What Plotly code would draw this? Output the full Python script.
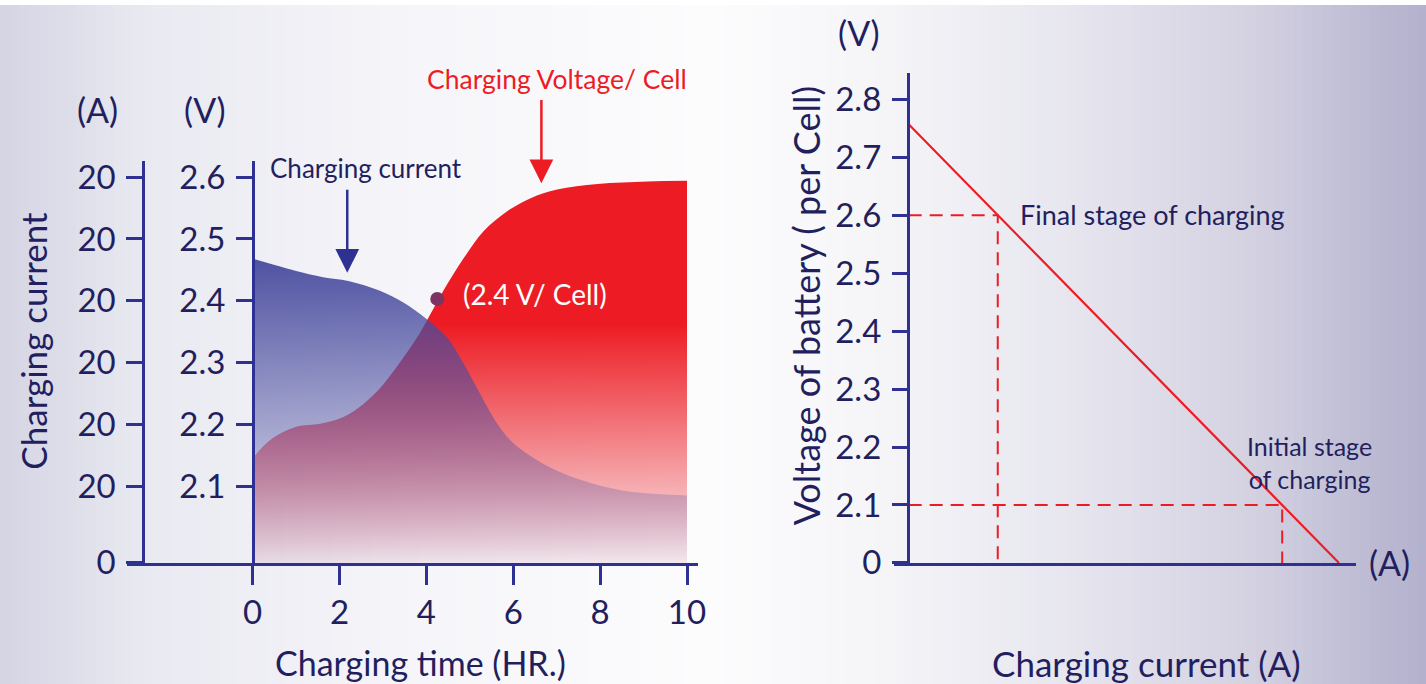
import plotly.graph_objects as go

# ---------------- data ----------------
# Left panel: charging time (hours) vs curves (plotted on the voltage-per-cell scale)
time_hr = [0.0, 0.39, 1.0, 1.55, 2.09, 2.55, 3.01, 3.47, 3.86, 4.09, 4.39, 4.86, 5.32, 5.86, 6.40, 7.01, 7.94, 9.09, 10.0]
voltage_cell = [2.145, 2.174, 2.196, 2.201, 2.212, 2.233, 2.265, 2.308, 2.349, 2.378, 2.416, 2.469, 2.513, 2.545, 2.566, 2.580, 2.589, 2.593, 2.594]

time_cur = [0.0, 1.0, 1.62, 2.2, 2.93, 3.47, 4.01, 4.47, 4.86, 5.24, 5.63, 6.01, 6.55, 7.17, 7.94, 8.71, 10.0]
current_level = [2.468, 2.448, 2.438, 2.432, 2.416, 2.397, 2.370, 2.341, 2.298, 2.249, 2.201, 2.169, 2.142, 2.120, 2.102, 2.091, 2.085]

marker_time = [4.25]
marker_volt = [2.403]

time_ticks = [0, 2, 4, 6, 8, 10]
volt_ticks = [2.1, 2.2, 2.3, 2.4, 2.5, 2.6]
amp_ticktext = ["0", "20", "20", "20", "20", "20", "20"]

# Right panel: charging current (arbitrary units) vs voltage per cell
line_current = [0.0, 10.0]
line_voltage = [2.757, 2.0]
stage_current = [2.07, 8.68]
stage_voltage = [2.6, 2.1]
right_volt_ticks = [2.0, 2.1, 2.2, 2.3, 2.4, 2.5, 2.6, 2.7, 2.8]
right_volt_text = ["0", "2.1", "2.2", "2.3", "2.4", "2.5", "2.6", "2.7", "2.8"]

# ---------------- geometry / style ----------------
# target positions are given in picture pixels (1426 x 684); the page is
# captured slightly scaled, so convert picture pixels to paper fractions.
SX, SY, OY = 0.993, 0.969, 3.3
FW, FH = 1436, 704
def fx(px):
    return (px / SX) / FW
def fy(py):
    return 1 - ((py - OY) / SY) / FH

FONT = "Lato"
NAVY_TXT = "#231f5e"
NAVY_AX = "#2e3192"
RED = "#ed1c24"

fig = go.Figure()

# background gradient stripes
stops = [(0.0, (212, 212, 228)), (0.1, (233, 233, 241)), (0.3, (246, 246, 250)),
         (0.5, (252, 252, 253)), (0.62, (245, 245, 248)), (0.75, (231, 230, 239)),
         (0.88, (211, 209, 225)), (1.0, (178, 176, 204))]
def bg(t):
    for (a, ca), (b, cb) in zip(stops[:-1], stops[1:]):
        if a <= t <= b:
            u = (t - a) / (b - a)
            return "rgb(%d,%d,%d)" % tuple(round(ca[i] + (cb[i] - ca[i]) * u) for i in range(3))
    return "rgb(%d,%d,%d)" % stops[-1][1]
N = 150
shapes = []
for i in range(N):
    x0 = i / N
    x1 = (i + 1) / N + 0.002
    shapes.append(dict(type="rect", xref="paper", yref="paper", x0=x0, x1=x1, y0=0, y1=1,
                       fillcolor=bg((i + 0.5) / N), line=dict(width=0), layer="below"))

# left x scale: x=0 at 252.5px, x=10 at 686.5px
ppx = (686.5 - 252.5) / 10
xl0 = (127 - 252.5) / ppx
xl1 = (697 - 252.5) / ppx
# left y scale: 2.1 at 486px, 2.6 at 176px
ppy = (486 - 176) / 0.5
yl0 = 2.1 - (563 - 486) / ppy
yl1 = 2.6 + (176 - 160) / ppy

# red voltage fill
fig.add_trace(go.Scatter(
    x=time_hr, y=voltage_cell, mode="lines", line=dict(width=0, shape="spline", color=RED),
    fill="tozeroy",
    fillgradient=dict(type="vertical", start=yl0, stop=2.37,
                      colorscale=[[0, "rgba(237,28,36,0)"], [1, "rgba(237,28,36,1)"]]),
    xaxis="x", yaxis="y", showlegend=False, hoverinfo="skip"))
# blue current fill
fig.add_trace(go.Scatter(
    x=time_cur, y=current_level, mode="lines", line=dict(width=0, shape="spline", color=NAVY_AX),
    fill="tozeroy",
    fillgradient=dict(type="vertical", start=yl0, stop=2.47,
                      colorscale=[[0, "rgba(72,75,158,0)"], [1, "rgba(72,75,158,0.95)"]]),
    xaxis="x", yaxis="y", showlegend=False, hoverinfo="skip"))
# 2.4 V marker
fig.add_trace(go.Scatter(
    x=marker_time, y=marker_volt, mode="markers",
    marker=dict(size=14, color="#7b3464"), xaxis="x", yaxis="y", showlegend=False, hoverinfo="skip"))
# invisible trace so the current (A) axis is drawn
fig.add_trace(go.Scatter(
    x=[None], y=[None], mode="lines", xaxis="x", yaxis="y3", showlegend=False, hoverinfo="skip"))

# right panel
pr = (1338 - 908) / 10
xr0 = (893 - 908) / pr
xr1 = (1355 - 908) / pr
pry = (563 - 98) / 0.8
yr0 = 2.0
yr1 = 2.8 + (98 - 72) / pry

for c, v in zip(stage_current, stage_voltage):
    fig.add_trace(go.Scatter(
        x=[0, c, c], y=[v, v, yr0], mode="lines",
        line=dict(color=RED, width=2, dash="13px,8px"),
        xaxis="x2", yaxis="y2", showlegend=False, hoverinfo="skip"))
fig.add_trace(go.Scatter(
    x=line_current, y=line_voltage, mode="lines", line=dict(color=RED, width=2.2),
    xaxis="x2", yaxis="y2", showlegend=False, hoverinfo="skip"))

tickfont = dict(family=FONT, size=33, color=NAVY_TXT)

fig.update_layout(
    width=FW, height=FH, margin=dict(l=0, r=0, t=0, b=0),
    paper_bgcolor="white", plot_bgcolor="rgba(0,0,0,0)",
    shapes=shapes,
    xaxis=dict(domain=[fx(127), fx(697)], range=[xl0, xl1], anchor="y",
               tickvals=time_ticks, ticks="outside", ticklen=19, tickwidth=2.5, tickcolor=NAVY_AX,
               showline=True, linecolor=NAVY_AX, linewidth=2.5, showgrid=False, zeroline=False,
               tickfont=tickfont, ticklabelstandoff=0, fixedrange=True),
    yaxis=dict(domain=[fy(563), fy(160)], range=[yl0, yl1], anchor="free", position=fx(252.5),
               tickvals=volt_ticks, ticktext=["%.1f" % v for v in volt_ticks],
               ticks="outside", ticklen=16, tickwidth=2.5, tickcolor=NAVY_AX,
               showline=True, linecolor=NAVY_AX, linewidth=2.5, showgrid=False, zeroline=False,
               tickfont=tickfont, ticklabelstandoff=4, fixedrange=True),
    yaxis3=dict(domain=[fy(563), fy(160)], range=[yl0, yl1], anchor="free", position=fx(143),
                overlaying="y",
                tickvals=[yl0 + 1e-6] + volt_ticks, ticktext=amp_ticktext,
                ticks="outside", ticklen=16, tickwidth=2.5, tickcolor=NAVY_AX,
                showline=True, linecolor=NAVY_AX, linewidth=2.5, showgrid=False, zeroline=False,
                tickfont=tickfont, ticklabelstandoff=4, fixedrange=True),
    xaxis2=dict(domain=[fx(893), fx(1355)], range=[xr0, xr1], anchor="y2",
                showticklabels=False, ticks="", showline=True, linecolor=NAVY_AX, linewidth=2.5,
                showgrid=False, zeroline=False, fixedrange=True),
    yaxis2=dict(domain=[fy(563), fy(72)], range=[yr0, yr1], anchor="free", position=fx(907),
                tickvals=right_volt_ticks, ticktext=right_volt_text,
                ticks="outside", ticklen=15, tickwidth=2.5, tickcolor=NAVY_AX,
                showline=True, linecolor=NAVY_AX, linewidth=2.5, showgrid=False, zeroline=False,
                tickfont=tickfont, ticklabelstandoff=4, fixedrange=True),
)

def note(px, py, text, size, color=NAVY_TXT, angle=0, xanchor="center", yanchor="middle"):
    fig.add_annotation(x=fx(px), y=fy(py), xref="paper", yref="paper", text=text,
                       showarrow=False, textangle=angle, xanchor=xanchor, yanchor=yanchor,
                       font=dict(family=FONT, size=size, color=color))

def arrow(px, py_tail, py_tip, color):
    fig.add_annotation(x=fx(px), y=fy(py_tip), xref="paper", yref="paper", text="",
                       showarrow=True, ax=0, ay=-(py_tip - py_tail) / SY, axref="pixel", ayref="pixel",
                       arrowhead=2, arrowsize=1.9, arrowwidth=2.5, arrowcolor=color)

note(97, 108, "(A)", 34)
note(205, 108, "(V)", 34)
note(33, 340, "Charging current", 35, angle=-90)
note(366, 167, "Charging current", 26)
note(557, 78, "Charging Voltage/ Cell", 26.5, color=RED)
note(535, 293, "(2.4 V/ Cell)", 28, color="white")
note(420, 663, "Charging time (HR.)", 34)
arrow(347, 190, 272, NAVY_AX)
arrow(541, 100, 182, RED)

note(858, 31, "(V)", 34)
note(805, 305, "Voltage of battery ( per Cell)", 36, angle=-90)
note(1017, 213, "Final stage of charging", 27, xanchor="left")
note(1244, 462, "Initial stage<br>of charging", 25, xanchor="left")
note(1388, 563, "(A)", 34)
note(1146, 663, "Charging current (A)", 35)

fig.write_html("out.html", config={"displayModeBar": False},
               post_script="document.body.style.margin='0';document.body.style.overflow='hidden';")
